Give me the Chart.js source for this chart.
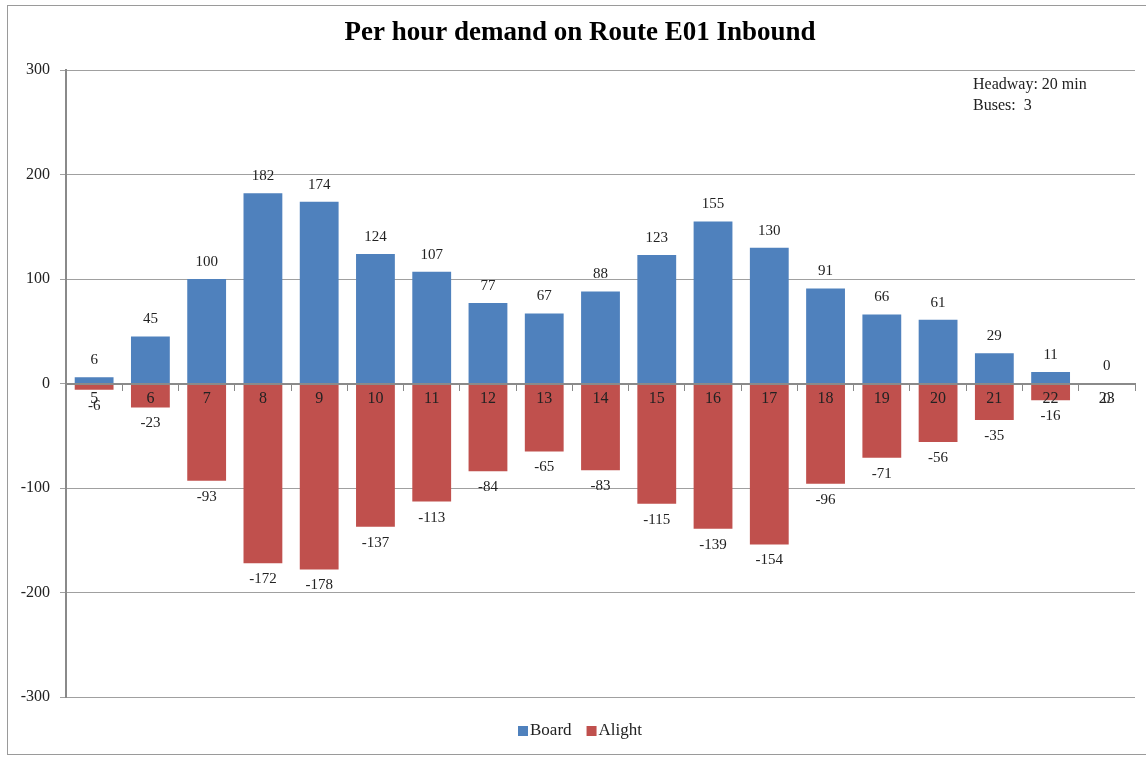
<!DOCTYPE html>
<html>
<head>
<meta charset="utf-8">
<script src="https://cdn.jsdelivr.net/npm/chart.js@4/dist/chart.umd.min.js"></script>
<style>
  html, body { margin: 0; padding: 0; background: #fff; }
  #wrap { position: relative; width: 1146px; height: 757px; }
</style>
</head>
<body>
<div id="wrap"><canvas id="c" width="1146" height="757"></canvas></div>
<script>
// Hours of the day (inbound service)
const hours = ['5','6','7','8','9','10','11','12','13','14','15','16','17','18','19','20','21','22','23'];
// Passengers boarding per hour
const board = [6,45,100,182,174,124,107,77,67,88,123,155,130,91,66,61,29,11,0];
// Passengers alighting per hour (shown below zero)
const alight = [-6,-23,-93,-172,-178,-137,-113,-84,-65,-83,-115,-139,-154,-96,-71,-56,-35,-16,0];
const yTicks = [-300,-200,-100,0,100,200,300];

const FONT = '"Liberation Serif", "DejaVu Serif", serif';
const BLUE = '#4F81BD';
const RED = '#C0504D';

// Value labels above boarding bars and below alighting bars
const valueLabels = {
  id: 'valueLabels',
  afterDatasetsDraw(chart) {
    const ctx = chart.ctx;
    ctx.save();
    ctx.font = '15px ' + FONT;
    ctx.fillStyle = '#222';
    ctx.textAlign = 'center';
    ctx.textBaseline = 'middle';
    chart.data.datasets.forEach((ds, di) => {
      const meta = chart.getDatasetMeta(di);
      meta.data.forEach((el, i) => {
        const v = ds.data[i];
        const y = di === 0 ? el.y - 17 : el.y + 16;
        ctx.fillText(String(v), el.x, y);
      });
    });
    ctx.restore();
  }
};

// Frame, title, note and legend
const decorations = {
  id: 'decorations',
  beforeDraw(chart) {
    const ctx = chart.ctx;
    ctx.save();
    ctx.fillStyle = '#fff';
    ctx.fillRect(0, 0, chart.width, chart.height);
    ctx.strokeStyle = '#9a9a9a';
    ctx.lineWidth = 1;
    ctx.strokeRect(7.5, 5.5, 1150, 749);
    ctx.restore();
  },
  afterDraw(chart) {
    const ctx = chart.ctx;
    ctx.save();
    ctx.fillStyle = '#000';
    ctx.textBaseline = 'middle';
    ctx.textAlign = 'center';
    ctx.font = 'bold 27px ' + FONT;
    ctx.fillText('Per hour demand on Route E01 Inbound', 580, 33);

    ctx.textAlign = 'left';
    ctx.font = '16px ' + FONT;
    ctx.fillStyle = '#222';
    ctx.fillText('Headway: 20 min', 973, 85);
    ctx.fillText('Buses:  3', 973, 106);

    // legend
    const items = [['Board', BLUE], ['Alight', RED]];
    ctx.font = '17px ' + FONT;
    let x = 518;
    const y = 731;
    items.forEach(([label, color]) => {
      ctx.fillStyle = color;
      ctx.fillRect(x, y - 5, 10, 10);
      ctx.fillStyle = '#222';
      ctx.fillText(label, x + 12, y);
      x += 12 + ctx.measureText(label).width + 15;
    });
    ctx.restore();
  }
};

new Chart(document.getElementById('c'), {
  type: 'bar',
  data: {
    labels: hours,
    datasets: [
      { label: 'Board', data: board, backgroundColor: BLUE },
      { label: 'Alight', data: alight, backgroundColor: RED }
    ]
  },
  options: {
    responsive: false,
    animation: false,
    layout: { padding: { left: 0, top: 70, right: 11, bottom: 60 } },
    datasets: { bar: { categoryPercentage: 1, barPercentage: 0.69 } },
    plugins: { legend: { display: false }, title: { display: false }, tooltip: { enabled: false } },
    scales: {
      x: {
        stacked: true,
        position: { y: 0 },
        z: 1,
        grid: { display: true, drawOnChartArea: false, offset: true, tickLength: 6, color: '#888', lineWidth: 1, z: 1 },
        border: { display: true, color: '#8a8a8a', width: 2, z: 1 },
        ticks: { color: '#222', font: { family: FONT, size: 16 }, padding: 0, maxRotation: 0, autoSkip: false, z: 1 }
      },
      y: {
        stacked: true,
        min: -300,
        max: 300,
        afterBuildTicks(scale) { scale.ticks = yTicks.map(v => ({ value: v })); },
        afterFit(scale) { scale.width = 66; },
        grid: { color: '#a0a0a0', lineWidth: 1, tickLength: 6 },
        border: { display: true, color: '#8a8a8a', width: 2 },
        ticks: { color: '#222', font: { family: FONT, size: 16 }, padding: 10 }
      }
    }
  },
  plugins: [decorations, valueLabels]
});
</script>
</body>
</html>
